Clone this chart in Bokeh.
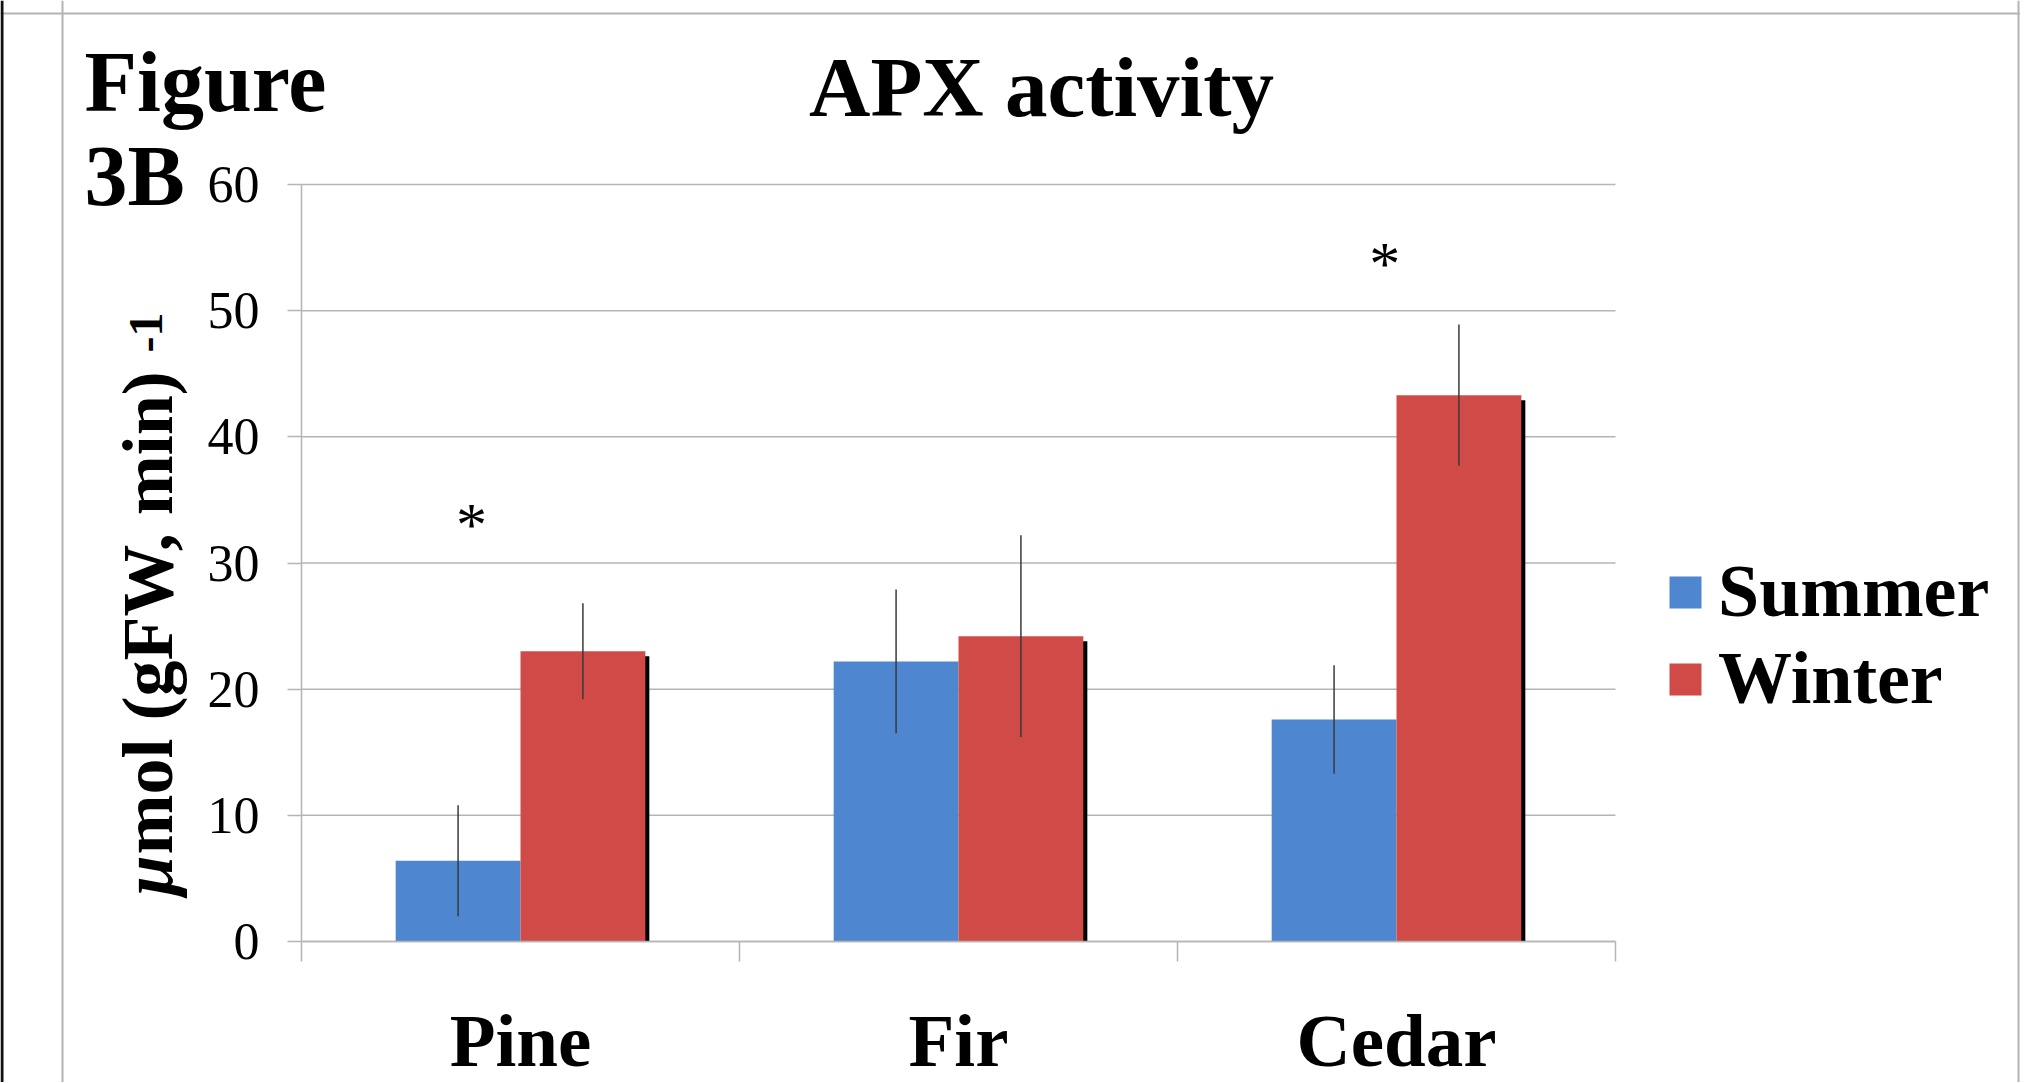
import math
from bokeh.plotting import figure
from bokeh.models import Range1d, FixedTicker, Label, Legend, LegendItem, Span
from bokeh.embed import file_html
from bokeh.resources import INLINE

# ---------------- data ----------------
categories = ["Pine", "Fir", "Cedar"]
summer = [6.4, 22.2, 17.6]
winter = [23.0, 24.2, 43.3]
summer_err = [4.4, 5.7, 4.3]
winter_err = [3.8, 8.0, 5.6]
y_ticks = [0, 10, 20, 30, 40, 50, 60]
sig_x = [0.388, 2.473]      # asterisk position (category units)
sig_y = [33.7, 54.4]        # asterisk centre (y units)

# ---------------- geometry (page pixels; canvas at page 0,0) ----------------
W, H = 2020, 1082
X0_PX, X3_PX = 301, 1615          # where x=0 and x=3 fall
Y0_PX, Y60_PX = 941, 184          # where y=0 and y=60 fall
PXU_X = (X3_PX - X0_PX) / 3.0
PXU_Y = (Y0_PX - Y60_PX) / 60.0
DESC = 0.175                      # label 'bottom' sits this many em below the baseline

def dx(page_x):
    return (page_x - X0_PX) / PXU_X

def dy(page_y):
    return (Y0_PX - page_y) / PXU_Y

BLUE = "#4f86d0"
RED = "#d04b47"
GRAY = "#b5b5b5"
SERIF = "Liberation Serif"

p = figure(width=W, height=H,
           x_range=Range1d(dx(0), dx(W)), y_range=Range1d(dy(H), dy(0)),
           output_backend="svg", toolbar_location=None,
           min_border_left=0, min_border_right=0, min_border_top=0, min_border_bottom=0)
p.title.visible = False
p.outline_line_color = None
p.background_fill_color = "white"
p.border_fill_color = "white"
p.xgrid.visible = False
p.ygrid.visible = False

# page frame (gray box) and dark left edge
for loc in (dx(62), dx(2018)):
    p.add_layout(Span(location=loc, dimension="height", line_color="#b4b4b4", line_width=2))
p.add_layout(Span(location=dy(13), dimension="width", line_color="#b4b4b4", line_width=2))
p.add_layout(Span(location=dx(1.5), dimension="height", line_color="#111111", line_width=3))

n = len(categories)

# horizontal gridlines (one per y tick, across the categories)
p.segment(x0=[0] * len(y_ticks), x1=[n] * len(y_ticks), y0=y_ticks, y1=y_ticks,
          line_color=GRAY, line_width=1.5)

# y axis
p.yaxis.fixed_location = 0
p.yaxis.bounds = (0, 60)
p.yaxis.ticker = FixedTicker(ticks=y_ticks)
p.yaxis.axis_line_color = GRAY
p.yaxis.axis_line_width = 1.5
p.yaxis.major_tick_line_color = GRAY
p.yaxis.major_tick_line_width = 1.5
p.yaxis.major_tick_out = 14
p.yaxis.major_tick_in = 0
p.yaxis.minor_tick_line_color = None
p.yaxis.major_label_text_font = SERIF
p.yaxis.major_label_text_font_size = "52px"
p.yaxis.major_label_text_color = "black"
p.yaxis.major_label_standoff = 28

# x axis: only the separators between categories
p.xaxis.fixed_location = 0
p.xaxis.bounds = (0, n)
p.xaxis.ticker = FixedTicker(ticks=[], minor_ticks=list(range(n + 1)))
p.xaxis.axis_line_color = GRAY
p.xaxis.axis_line_width = 1.5
p.xaxis.major_tick_line_color = None
p.xaxis.major_tick_out = 0
p.xaxis.major_tick_in = 0
p.xaxis.minor_tick_line_color = GRAY
p.xaxis.minor_tick_line_width = 1.5
p.xaxis.minor_tick_out = 20
p.xaxis.minor_tick_in = 0

# bars
bw = 0.285
xs = [i + 0.5 - bw / 2 for i in range(n)]
xw = [i + 0.5 + bw / 2 for i in range(n)]
shadow_dx = 4 / PXU_X
shadow_dy = 5 / PXU_Y
p.vbar(x=[x + shadow_dx for x in xw], top=[v - shadow_dy for v in winter], bottom=0,
       width=bw, fill_color="black", line_color=None)
rs = p.vbar(x=xs, top=summer, bottom=0, width=bw, fill_color=BLUE, line_color=None)
rw = p.vbar(x=xw, top=winter, bottom=0, width=bw, fill_color=RED, line_color=None)

# error bars
p.segment(x0=xs, x1=xs, y0=[v - e for v, e in zip(summer, summer_err)],
          y1=[v + e for v, e in zip(summer, summer_err)], line_color="#3a3a3a", line_width=1.5)
p.segment(x0=xw, x1=xw, y0=[v - e for v, e in zip(winter, winter_err)],
          y1=[v + e for v, e in zip(winter, winter_err)], line_color="#3a3a3a", line_width=1.5)

def lab(x, y, text, size_px, style="bold", align="left", angle=0.0):
    p.add_layout(Label(x=x, y=y, text=text, text_font=SERIF, text_font_style=style,
                       text_font_size=f"{size_px}px", text_align=align, text_baseline="bottom",
                       text_color="black", angle=angle))

# asterisks (centre of the glyph sits ~0.5em above its baseline)
for sx, sy in zip(sig_x, sig_y):
    lab(sx, sy - (0.5 + DESC) * 62 / PXU_Y, "*", 62, style="normal", align="center")

# category labels (baseline near page y 1068)
for i, c in enumerate(categories):
    lab(i + 0.5, dy(1068 + DESC * 75), c, 75, align="center")

# title and figure label
lab(dx(1041), dy(119 + DESC * 85), "APX activity", 85, align="center")
lab(dx(84), dy(114 + DESC * 86), "Figure", 86)
lab(dx(84), dy(208 + DESC * 86), "3B", 86)

# y axis label pieces (rotated, reading upwards; baseline at page x 175)
lab(dx(175 + DESC * 72), dy(895), "μ", 72, style="bold italic", angle=math.pi / 2)
lab(dx(175 + DESC * 72), dy(854), "mol (gFW, min)", 72, angle=math.pi / 2)
lab(dx(153 + DESC * 48), dy(352), "-1", 48, angle=math.pi / 2)

# legend
legend = Legend(items=[LegendItem(label="Summer", renderers=[rs]),
                       LegendItem(label="Winter", renderers=[rw])],
                location=(1665, H - 721), glyph_width=40, glyph_height=40,
                label_text_font=SERIF, label_text_font_style="bold", label_text_color="black",
                label_text_font_size="74px", label_standoff=13, spacing=2,
                padding=0, margin=0, border_line_color=None, background_fill_alpha=0)
p.add_layout(legend)

open("out.html", "w").write(file_html(p, INLINE))
